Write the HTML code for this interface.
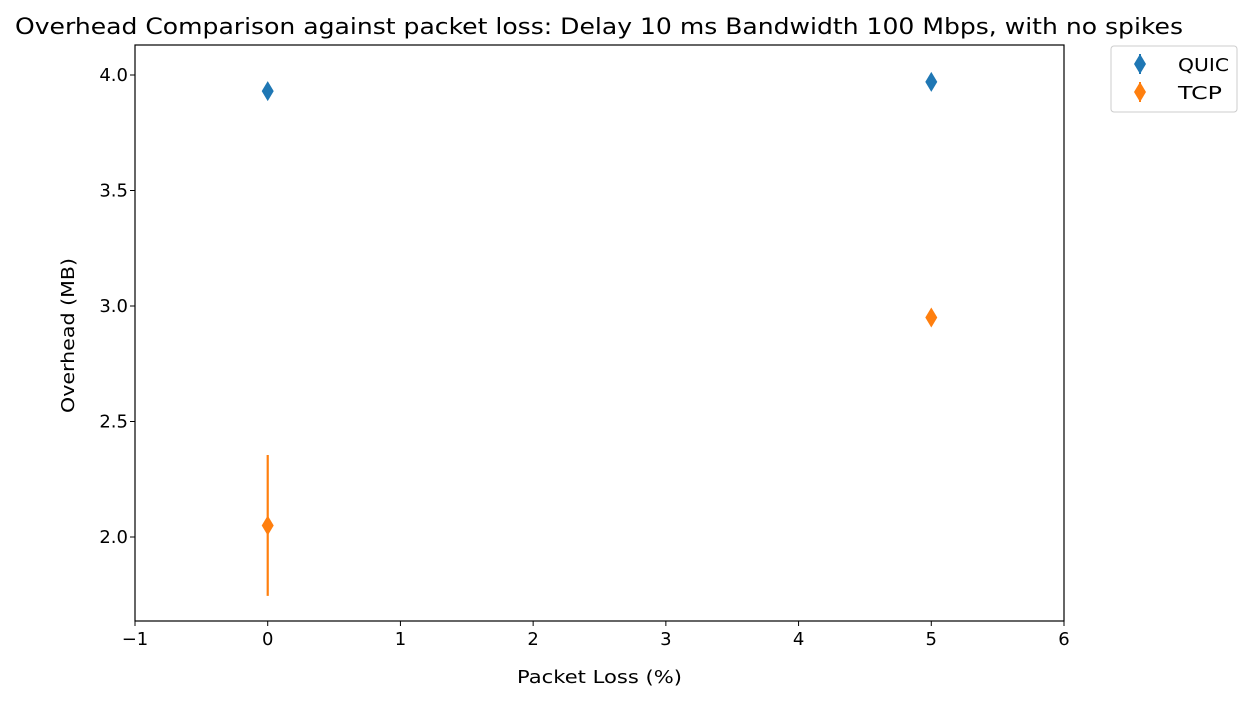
<!DOCTYPE html>
<html><head><meta charset="utf-8"><style>
body{margin:0;background:#fff;font-family:"DejaVu Sans","Liberation Sans",sans-serif;}
svg text{font-family:"DejaVu Sans","Liberation Sans",sans-serif;}
</style></head><body>
<svg id="chart" width="1253" height="701" xmlns="http://www.w3.org/2000/svg"></svg>
<script>
const xTicks=[-1,0,1,2,3,4,5,6];
const yTicks=[2.0,2.5,3.0,3.5,4.0];
const yTickLabels=["2.0","2.5","3.0","3.5","4.0"];
const seriesNames=["QUIC","TCP"];
const seriesColors=["#1f77b4","#ff7f0e"];
const xValues=[0,5];
const quicValues=[3.93,3.97];
const quicErr=[0.02,0.02];
const tcpValues=[2.05,2.95];
const tcpErr=[0.305,0.02];
const L=135,R=1064,T=45,B=621;
const sx=v=>L+(v+1)*(R-L)/7;
const sy=v=>537-(v-2)*231;
const svg=document.getElementById('chart');
const NS='http://www.w3.org/2000/svg';
function mk(tag,attrs,parent){const e=document.createElementNS(NS,tag);for(const k in attrs)e.setAttribute(k,attrs[k]);(parent||svg).appendChild(e);return e;}
let t=mk('text',{x:15,y:34,'font-size':22,textLength:1168,lengthAdjust:'spacingAndGlyphs',fill:'#000'});


t.textContent='Overhead Comparison against packet loss: Delay 10 ms Bandwidth 100 Mbps, with no spikes';
let fr=mk('rect',{x:L,y:T,width:R-L,height:B-T,fill:'none',stroke:'#000','stroke-width':1.2});


xTicks.forEach(v=>{const g=mk('g',{});


mk('line',{x1:sx(v),x2:sx(v),y1:B,y2:B+5,stroke:'#000'},g);
const tx=mk('text',{x:sx(v),y:B+24,'font-size':18,'text-anchor':'middle'},g);tx.textContent=v<0?'\u2212'+(-v):v;});
yTicks.forEach((v,i)=>{const g=mk('g',{});


mk('line',{x1:L-5,x2:L,y1:sy(v),y2:sy(v),stroke:'#000'},g);
const tx=mk('text',{x:L-7,y:sy(v)+6,'font-size':18,'text-anchor':'end'},g);tx.textContent=yTickLabels[i];});
t=mk('text',{x:517,y:683,'font-size':18,textLength:165,lengthAdjust:'spacingAndGlyphs'});


t.textContent='Packet Loss (%)';
t=mk('text',{x:0,y:0,'font-size':18,textLength:155,lengthAdjust:'spacingAndGlyphs',transform:'translate(74 413) rotate(-90)'});


t.textContent='Overhead (MB)';
function diamond(cx,cy,c,parent){return mk('path',{d:`M${cx} ${cy-10}L${cx+6} ${cy}L${cx} ${cy+10}L${cx-6} ${cy}Z`,fill:c},parent);}
[[quicValues,quicErr],[tcpValues,tcpErr]].forEach((s,si)=>{
xValues.forEach((xv,i)=>{const g=mk('g',{});


mk('line',{x1:sx(xv),x2:sx(xv),y1:sy(s[0][i]-s[1][i]),y2:sy(s[0][i]+s[1][i]),stroke:seriesColors[si],'stroke-width':2.2},g);
diamond(sx(xv),sy(s[0][i]),seriesColors[si],g);});});
const lg=mk('g',{});


mk('rect',{x:1111,y:46,width:126,height:66,rx:3,fill:'#fff',stroke:'#ccc'},lg);
seriesNames.forEach((n,i)=>{const g=mk('g',{},lg);


const cy=64+i*28;
mk('line',{x1:1140,x2:1140,y1:cy-10,y2:cy+10,stroke:seriesColors[i],'stroke-width':2},g);
diamond(1140,cy,seriesColors[i],g);
const tx=mk('text',{x:1178,y:cy+7,'font-size':18,textLength:n.length===4?51:44,lengthAdjust:'spacingAndGlyphs'},g);tx.textContent=n;});
</script>
</body></html>
